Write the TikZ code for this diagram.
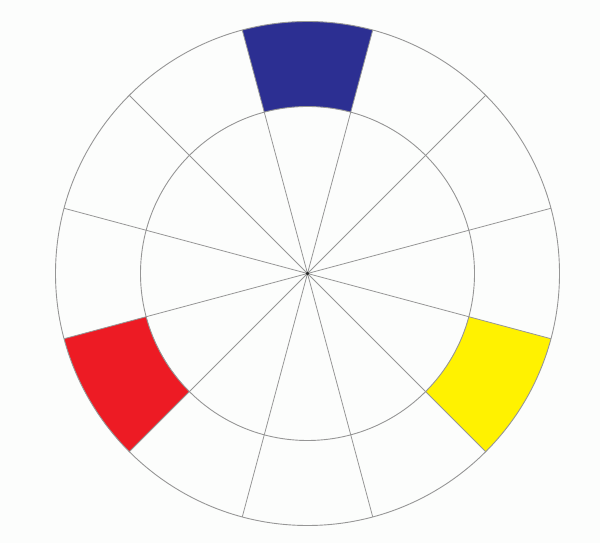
\documentclass[tikz,border=0pt]{standalone}
\usepackage{xcolor}
\usepackage{tikz}
\definecolor{wheelblue}{RGB}{44,47,146}
\definecolor{wheelred}{RGB}{237,27,36}
\definecolor{wheelyellow}{RGB}{255,242,0}
\definecolor{spokegray}{RGB}{150,150,150}
\definecolor{paper}{RGB}{252,253,252}
\tikzset{
  ring/.style={draw=spokegray, line width=0.9pt},
  spoke/.style={draw=spokegray, line width=0.8pt},
  hubdot/.style={fill=black!85},
}
\newcommand{\rOuter}{252}
\newcommand{\rInner}{167}

\begin{document}
\begin{tikzpicture}[x=1pt,y=1pt]
  \fill[paper] (0,0) rectangle (600,543);
  \coordinate (hub) at (307.5,269.5);
  % the three primaries
  \foreach \a/\col in {75/wheelblue,195/wheelred,315/wheelyellow}
    \fill[\col] ([shift={(\a:\rInner)}]hub)
      arc[start angle=\a, end angle=\a+30, radius=\rInner]
      -- ([shift={({\a+30}:\rOuter)}]hub)
      arc[start angle=\a+30, end angle=\a, radius=\rOuter] -- cycle;
  % rings and spokes
  \draw[ring] (hub) circle[radius=\rOuter];
  \draw[ring] (hub) circle[radius=\rInner];
  \foreach \a in {15,45,...,345}
    \draw[spoke] (hub) -- ([shift={(\a:\rOuter)}]hub);
  \fill[hubdot] (hub) circle[radius=1.8];
\end{tikzpicture}
\end{document}
